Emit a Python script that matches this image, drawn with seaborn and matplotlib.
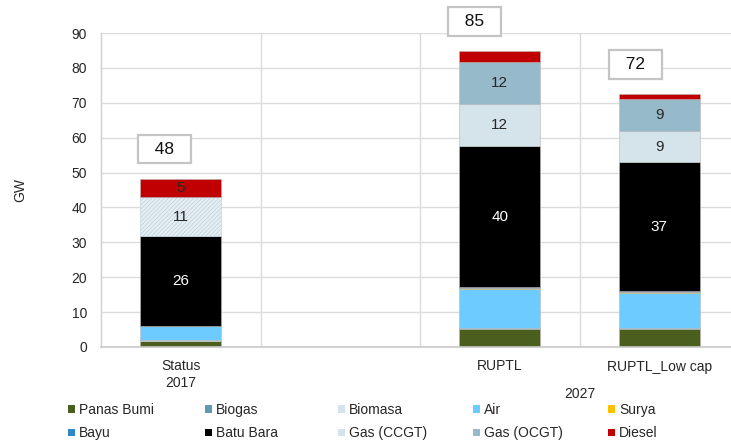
import matplotlib
matplotlib.use("Agg")
import matplotlib.pyplot as plt
from matplotlib.patches import Patch
import numpy as np
import pandas as pd
import seaborn as sns

# Scenario columns (the blank one is a spacer between 2017 and the 2027 scenarios)
categories = ["Status\n2017", " ", "RUPTL", "RUPTL_Low cap"]

# Installed capacity by source, GW
panas_bumi = [1.7, 0.0, 5.3, 5.3]
biogas     = [0.1, 0.0, 0.1, 0.1]
biomasa    = [0.1, 0.0, 0.1, 0.1]
air        = [4.2, 0.0, 11.0, 10.1]
surya      = [0.05, 0.0, 0.3, 0.3]
bayu       = [0.0, 0.0, 0.3, 0.1]
batu_bara  = [25.6, 0.0, 40.4, 37.0]
gas_ccgt   = [11.2, 0.0, 12.2, 8.9]
gas_ocgt   = [0.0, 0.0, 12.0, 9.3]
diesel     = [5.3, 0.0, 3.0, 1.2]

series_names = ["Panas Bumi", "Biogas", "Biomasa", "Air", "Surya",
                "Bayu", "Batu Bara", "Gas (CCGT)", "Gas (OCGT)", "Diesel"]
series_values = [panas_bumi, biogas, biomasa, air, surya,
                 bayu, batu_bara, gas_ccgt, gas_ocgt, diesel]
colors = ["#4a5f1e", "#5f9ab4", "#d6e3ea", "#6ecbff", "#ffc000",
          "#2f86c8", "#000000", "#d5e3ea", "#97bacb", "#c00000"]

# Segments that carry a value label
labelled = {"Batu Bara", "Gas (CCGT)", "Gas (OCGT)", "Diesel"}
label_min = 4.5

sns.set_theme(style="white")
plt.rcParams["font.family"] = ["Liberation Sans", "DejaVu Sans"]
plt.rcParams["hatch.linewidth"] = 0.5
text_color = "#262626"

fig = plt.figure(figsize=(7.31, 4.48), dpi=100)
ax = fig.add_axes([101 / 731, 1 - 347 / 448, 638 / 731, (347 - 33) / 448])

df = pd.DataFrame({"scenario": categories})
bottom = np.zeros(len(categories))
bar_width = 0.51
for name, vals, col in zip(series_names, series_values, colors):
    df[name] = vals
    n_before = len(ax.patches)
    sns.barplot(data=df, x="scenario", y=name, order=categories, color=col,
                saturation=1, width=bar_width, bottom=bottom.copy(),
                errorbar=None, edgecolor="#b8b8b8", linewidth=0.4, ax=ax)
    layer = ax.patches[n_before:]
    if name == "Gas (CCGT)":
        # 2017 gas capacity drawn with a fine hatched fill
        layer[0].set_facecolor("#e6eef3")
        layer[0].set_hatch("////////")
        layer[0].set_edgecolor("#b9d0dd")
    if name in labelled:
        for i, v in enumerate(vals):
            if v >= label_min:
                ax.text(i, bottom[i] + v / 2, f"{round(v):d}",
                        ha="center", va="center", fontsize=11,
                        color="white" if name == "Batu Bara" else text_color)
    bottom += np.array(vals)

# Total capacity boxes above each bar
box_shift = [-0.10, 0.0, -0.16, -0.15]
for i, tot in enumerate(bottom):
    if tot > 0:
        ax.text(i + box_shift[i], tot + 8.5, f"  {round(tot):d}  ",
                ha="center", va="center", fontsize=12.5, color="#111111",
                clip_on=False,
                bbox=dict(boxstyle="square,pad=0.4", facecolor="white",
                          edgecolor="#c4c4c4", linewidth=1.6))

ax.set_ylim(0, 90)
ax.set_xlim(-0.5, 3.5)
ax.set_yticks(range(0, 91, 10))
ax.set_xlabel("")
ax.set_ylabel("GW", fontsize=10, color=text_color)
ax.yaxis.set_label_coords(-0.115, 0.5)
ax.tick_params(axis="both", length=0, labelsize=10, colors=text_color)
ax.tick_params(axis="x", pad=9)
ax.tick_params(axis="y", pad=10)

# Light grid: horizontal per 10 GW, vertical between scenarios
ax.grid(False)
for y in range(10, 91, 10):
    ax.axhline(y, color="#dcdcdc", lw=1.0, zorder=0)
for x in [0.5, 1.5, 2.5]:
    ax.axvline(x, color="#dcdcdc", lw=1.0, zorder=0)
ax.set_axisbelow(True)
for side in ["top", "right"]:
    ax.spines[side].set_visible(False)
ax.spines["left"].set_color("#d0d0d0")
ax.spines["bottom"].set_color("#c8c8c8")
ax.spines["left"].set_linewidth(1.0)
ax.spines["bottom"].set_linewidth(1.2)

ax.text(2.5, -13.5, "2027", ha="center", va="center", fontsize=10,
        color=text_color, clip_on=False)

# Legend: five columns of two entries each
handles = [Patch(facecolor=c, edgecolor="none") for c in colors]
col_x = [68, 205, 338, 473, 608]
for k, x in enumerate(col_x):
    idx = [k, k + 5]
    fig.legend(handles=[handles[j] for j in idx],
               labels=[series_names[j] for j in idx],
               loc="upper left", bbox_to_anchor=(x / 731, 1 - 403 / 448),
               frameon=False, fontsize=10, handlelength=0.5, handleheight=0.5,
               handletextpad=0.3, labelspacing=0.68, borderpad=0,
               borderaxespad=0, labelcolor=text_color)

fig.savefig("out.png", dpi=100)
